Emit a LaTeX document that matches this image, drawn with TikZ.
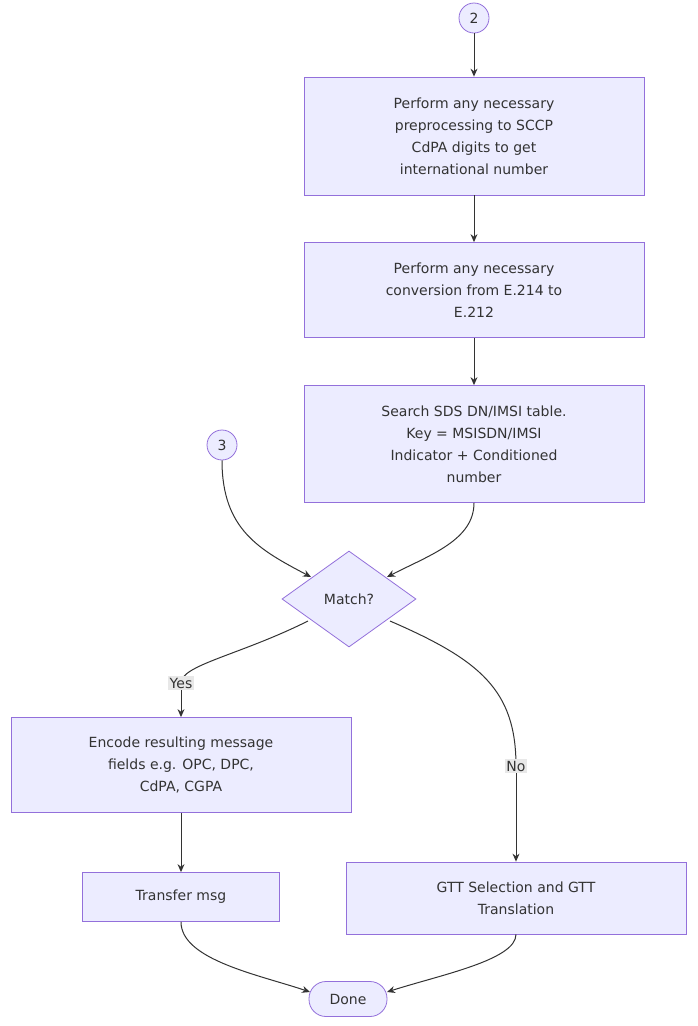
\documentclass[tikz,border=0pt]{standalone}
\usepackage{fontspec}
\setmainfont{DejaVu Sans}
\usetikzlibrary{shapes.geometric,arrows.meta}
\definecolor{nfill}{HTML}{ECECFF}
\definecolor{nline}{HTML}{9370DB}
\definecolor{lbl}{HTML}{E8E8E8}
\definecolor{edge}{HTML}{333333}
\begin{document}
\begin{tikzpicture}[x=1pt,y=-1pt,
  every node/.style={font=\fontsize{14}{22}\selectfont,text=edge},
  box/.style={draw=nline,fill=nfill,line width=0.8pt,rectangle,align=center,inner sep=0pt},
  circ/.style={draw=nline,fill=nfill,line width=0.8pt,circle,minimum size=30pt,inner sep=0pt},
  dec/.style={draw=nline,fill=nfill,line width=0.8pt,diamond,minimum width=134pt,minimum height=96pt,inner sep=0pt},
  term/.style={draw=nline,fill=nfill,line width=0.8pt,rounded corners=17pt,minimum width=78pt,minimum height=35pt},
  lab/.style={fill=lbl,inner sep=1.5pt},
  arr/.style={draw=edge,line width=1pt,-{Stealth[length=8pt,width=7pt]}}]
\useasboundingbox (0,0) rectangle (698,1026);
\node[circ,minimum size=30pt] (c2) at (474,18) {2};
\node[box,minimum width=340pt,minimum height=118pt] (b1) at (474,136) {Perform any necessary\\preprocessing to SCCP\\CdPA digits to get\\international number};
\node[box,minimum width=340pt,minimum height=95pt] (b2) at (474,290) {Perform any necessary\\conversion from E.214 to\\E.212};
\node[box,minimum width=340pt,minimum height=117pt] (b3) at (474,444) {Search SDS DN/IMSI table.\\Key = MSISDN/IMSI\\Indicator + Conditioned\\number};
\node[circ] (c3) at (222,445) {3};
\node[dec] (m) at (349,599) {Match?};
\node[box,minimum width=340pt,minimum height=95pt] (enc) at (181,765) {Encode resulting message\\fields e.g. OPC, DPC,\\CdPA, CGPA};
\node[box,minimum width=197pt,minimum height=49pt] (tr) at (181,897) {Transfer msg};
\node[box,minimum width=340pt,minimum height=72pt] (gtt) at (516,898) {GTT Selection and GTT\\Translation};
\node[term] (done) at (348,999) {Done};
\path[arr] (c2) -- (b1);
\path[arr] (b1) -- (b2);
\path[arr] (b2) -- (b3);
\path[arr] (c3.south) .. controls (222,530) and (260,550) .. (311,577);
\path[arr] (b3.south) .. controls (474,540) and (430,555) .. (387,577);
\draw[edge,line width=1pt] (308,621) .. controls (240,655) and (181,665) .. (181,683) node[lab] (yes) {Yes};
\path[arr] (yes) -- (enc);
\draw[edge,line width=1pt] (390,621) .. controls (480,660) and (516,690) .. (516,766) node[lab] (no) {No};
\path[arr] (no) -- (gtt);
\path[arr] (enc) -- (tr);
\path[arr] (tr.south) .. controls (181,960) and (260,975) .. (310,992);
\path[arr] (gtt.south) .. controls (516,960) and (440,975) .. (387,992);
\end{tikzpicture}
\end{document}
